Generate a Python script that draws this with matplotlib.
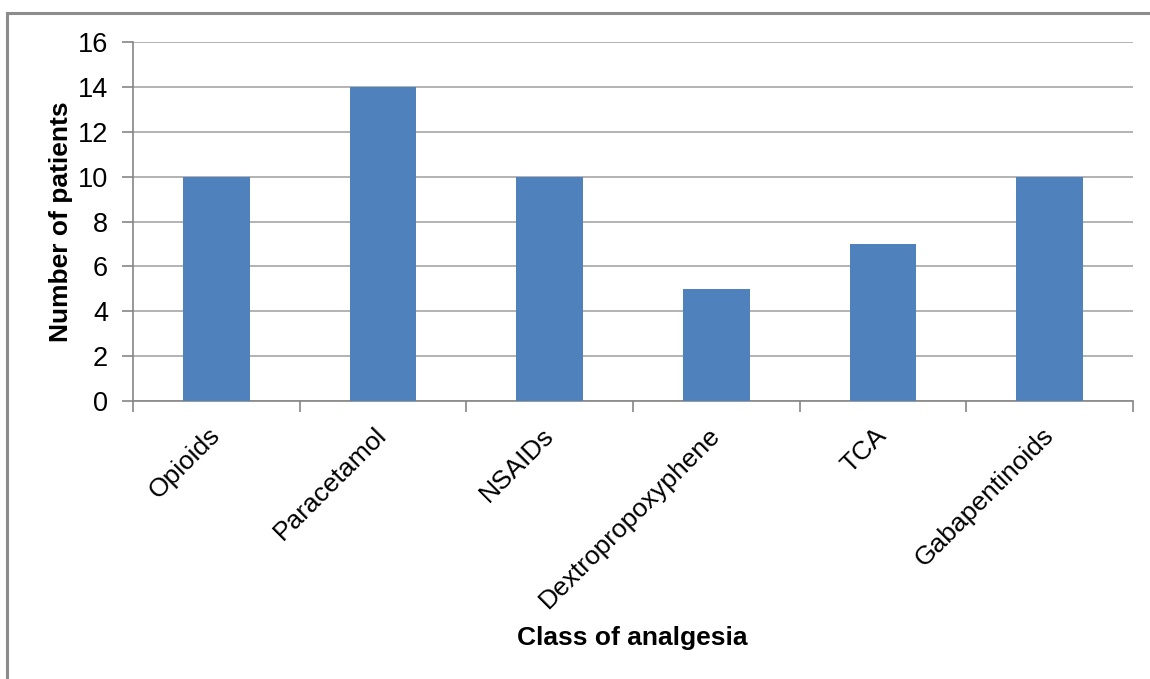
import matplotlib
matplotlib.use("Agg")
import matplotlib.pyplot as plt
from matplotlib.lines import Line2D

categories = ["Opioids", "Paracetamol", "NSAIDs", "Dextropropoxyphene", "TCA", "Gabapentinoids"]
patients = [10, 14, 10, 5, 7, 10]
y_ticks = [0, 2, 4, 6, 8, 10, 12, 14, 16]

plt.rcParams["font.family"] = ["Liberation Sans", "DejaVu Sans"]

W, H = 1150, 679
fig = plt.figure(figsize=(W / 100, H / 100), dpi=100)
ax = fig.add_axes([133 / W, 1 - 401 / H, 1000 / W, 359 / H])

x = list(range(len(categories)))
ax.bar(x, patients, width=0.4, color="#4F81BD", zorder=3)

ax.set_xlim(-0.5, len(categories) - 0.5)
ax.set_ylim(0, 16)
ax.set_yticks(y_ticks)
ax.set_yticklabels([str(v) for v in y_ticks], fontsize=19.5)
ax.yaxis.grid(True, color="#A6A6A6", linewidth=1.2, zorder=0)
ax.tick_params(axis="y", length=8, width=1.2, color="#868686", pad=10)

# category ticks sit at the boundaries; labels at the centres
ax.set_xticks([i - 0.5 for i in range(len(categories) + 1)])
ax.set_xticklabels([])
ax.tick_params(axis="x", length=8, width=1.2, color="#868686")
ax.set_xticks(x, minor=True)
ax.set_xticklabels(categories, minor=True, rotation=45, ha="right",
                   va="center", rotation_mode="anchor", fontsize=19)
ax.tick_params(axis="x", which="minor", length=0, pad=22)

for side in ["top", "right"]:
    ax.spines[side].set_visible(False)
for side in ["left", "bottom"]:
    ax.spines[side].set_color("#868686")
    ax.spines[side].set_linewidth(1.2)

ax.set_ylabel("Number of patients", fontsize=19, fontweight="bold", labelpad=3)
fig.text(632 / W, 1 - 638 / H, "Class of analgesia", fontsize=19,
         fontweight="bold", ha="center", va="center")

# chart frame
fig.add_artist(Line2D([7 / W, 1.0], [1 - 13 / H, 1 - 13 / H], color="#8C8C8C",
                      linewidth=2.2, transform=fig.transFigure))
fig.add_artist(Line2D([7 / W, 7 / W], [0.0, 1 - 13 / H], color="#8C8C8C",
                      linewidth=2.2, transform=fig.transFigure))

fig.savefig("out.png", dpi=100, facecolor="white")
